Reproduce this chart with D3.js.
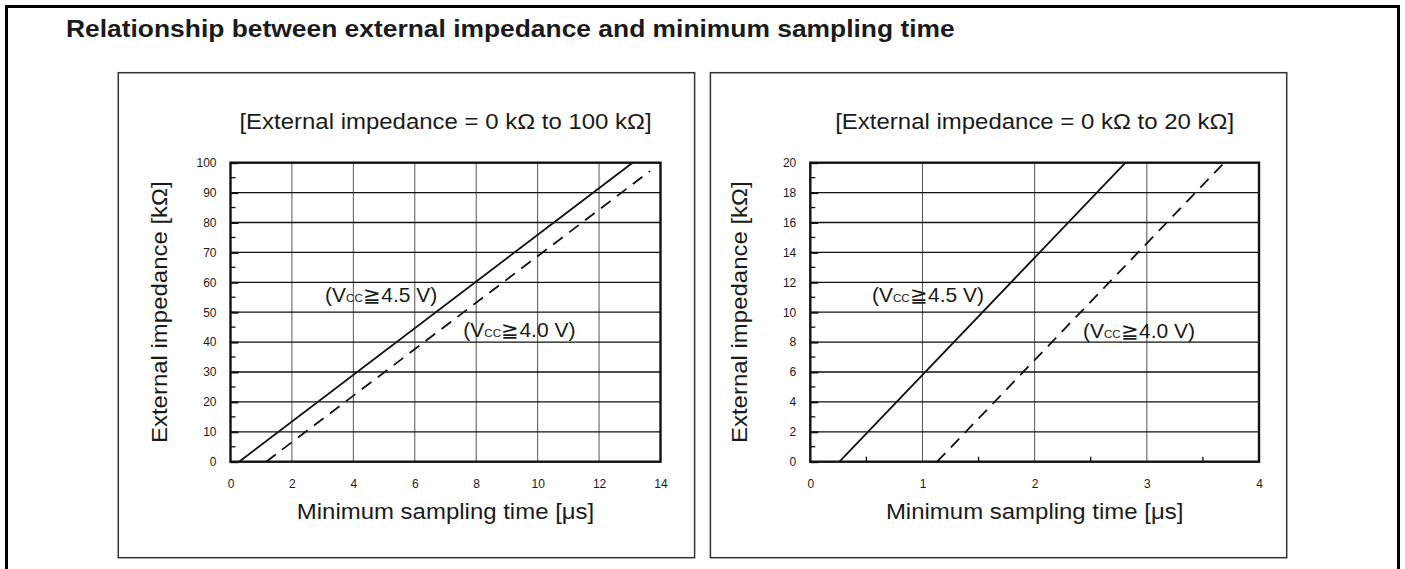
<!DOCTYPE html>
<html>
<head>
<meta charset="utf-8">
<script src="https://cdn.jsdelivr.net/npm/d3@7"></script>
<style>
body { margin: 0; background: #fff; }
svg { display: block; }
text { font-family: "Liberation Sans", Arial, Helvetica, sans-serif; fill: #1a1a1a; }
</style>
</head>
<body>
<svg></svg>
<script>
// Texts
var chartTitle = "Relationship between external impedance and minimum sampling time";
var panelTitles = ["[External impedance = 0 k\u03A9 to 100 k\u03A9]", "[External impedance = 0 k\u03A9 to 20 k\u03A9]"];
var xLabel = "Minimum sampling time [\u03BCs]";
var yLabel = "External impedance [k\u03A9]";
var seriesNames = ["4.5 V", "4.0 V"];

// Tick values
var leftTimeTicks = [0, 2, 4, 6, 8, 10, 12, 14];
var leftImpTicks = [0, 10, 20, 30, 40, 50, 60, 70, 80, 90, 100];
var leftImpMinor = [5, 15, 25, 35, 45, 55, 65, 75, 85, 95];
var rightTimeTicks = [0, 1, 2, 3, 4];
var rightTimeMinor = [0.5, 1.5, 2.5, 3.5];
var rightImpTicks = [0, 2, 4, 6, 8, 10, 12, 14, 16, 18, 20];
var rightImpMinor = [1, 3, 5, 7, 9, 11, 13, 15, 17, 19];

// Series (sampling time in us, impedance in kOhm)
var left45Time = [0.28, 13.09];
var left45Imp = [0, 100];
var left40Time = [1.16, 13.66];
var left40Imp = [0, 97.2];
var right45Time = [0.26, 2.81];
var right45Imp = [0, 20];
var right40Time = [1.13, 3.69];
var right40Imp = [0, 20];

var W = 1405, H = 569;
var stretch = 1.09; //text in the source is a bit wide
var plotTop = 162.7, plotBottom = 461.7;

var svg = d3.select("svg").attr("width", W).attr("height", H);

//Outer frame
svg.append("rect")
  .attr("x", 6.5).attr("y", 6.5)
  .attr("width", 1392).attr("height", 620)
  .attr("fill", "none").attr("stroke", "#000").attr("stroke-width", 3);

svg.append("text")
  .attr("transform", "translate(66,37) scale(1.1,1)")
  .attr("font-size", 24).attr("font-weight", "bold").attr("fill", "#000")
  .text(chartTitle);

function zip(a, b) {
  return a.map(function(v, i) { return [v, b[i]]; });
}

function wideText(g, x, y, size, str, anchor, rotate) {
  return g.append("text")
    .attr("transform", "translate(" + x + "," + y + ")" + (rotate ? " rotate(-90)" : "") + " scale(" + stretch + ",1)")
    .attr("font-size", size)
    .attr("text-anchor", anchor)
    .text(str);
}

function drawPanel(p) {
  var g = svg.append("g");

  g.append("rect")
    .attr("x", p.boxX).attr("y", 72.7)
    .attr("width", 576.3).attr("height", 485)
    .attr("fill", "none").attr("stroke", "#333").attr("stroke-width", 1.5);

  var x = d3.scaleLinear().domain([0, p.xTicks[p.xTicks.length - 1]]).range([p.left, p.right]);
  var y = d3.scaleLinear().domain([0, p.yTicks[p.yTicks.length - 1]]).range([plotBottom, plotTop]);

  //Grid
  g.selectAll(".vgrid").data(p.xTicks.slice(1, -1)).join("line")
    .attr("x1", function(d) { return x(d); }).attr("x2", function(d) { return x(d); })
    .attr("y1", plotTop).attr("y2", plotBottom)
    .attr("stroke", "#555").attr("stroke-width", 1);
  g.selectAll(".hgrid").data(p.yTicks.slice(1, -1)).join("line")
    .attr("x1", p.left).attr("x2", p.right)
    .attr("y1", function(d) { return y(d); }).attr("y2", function(d) { return y(d); })
    .attr("stroke", "#111").attr("stroke-width", 1.3);

  //Minor ticks, pointing inward
  g.selectAll(".ymin").data(p.yMinor).join("line")
    .attr("x1", p.left).attr("x2", p.left + 5)
    .attr("y1", function(d) { return y(d); }).attr("y2", function(d) { return y(d); })
    .attr("stroke", "#111").attr("stroke-width", 1.3);
  g.selectAll(".xmin").data(p.xMinor).join("line")
    .attr("x1", function(d) { return x(d); }).attr("x2", function(d) { return x(d); })
    .attr("y1", plotBottom).attr("y2", plotBottom - 5)
    .attr("stroke", "#111").attr("stroke-width", 1.3);

  //Axes: labels and major ticks
  var ya = g.append("g").attr("transform", "translate(" + p.left + ",0)")
    .call(d3.axisLeft(y).tickValues(p.yTicks).tickFormat(d3.format("d")).tickSize(-8).tickPadding(14));
  var xa = g.append("g").attr("transform", "translate(0," + plotBottom + ")")
    .call(d3.axisBottom(x).tickValues(p.xTicks).tickFormat(d3.format("d")).tickSize(0).tickPadding(17.5));
  [ya, xa].forEach(function(a) {
    a.attr("font-family", null).attr("font-size", null);
    a.select(".domain").remove();
    a.selectAll("text").attr("font-size", 12).attr("fill", "#222");
    a.selectAll(".tick line").attr("stroke", "#111").attr("stroke-width", 2);
  });

  //Frame of the plot
  g.append("rect")
    .attr("x", p.left).attr("y", plotTop)
    .attr("width", p.right - p.left).attr("height", plotBottom - plotTop)
    .attr("fill", "none").attr("stroke", "#111").attr("stroke-width", 2.4);

  //Lines
  var line = d3.line().x(function(d) { return x(d[0]); }).y(function(d) { return y(d[1]); });
  g.append("path").datum(zip(p.solidT, p.solidZ))
    .attr("d", line).attr("fill", "none")
    .attr("stroke", "#111").attr("stroke-width", 1.8);
  g.append("path").datum(zip(p.dashT, p.dashZ))
    .attr("d", line).attr("fill", "none")
    .attr("stroke", "#111").attr("stroke-width", 1.8)
    .attr("stroke-dasharray", "12,8");

  //Series notes
  p.notes.forEach(function(n, i) {
    var t = g.append("text")
      .attr("transform", "translate(" + x(n[0]) + "," + y(n[1]) + ") scale(1.05,1)")
      .attr("font-size", 20);
    t.append("tspan").text("(V");
    t.append("tspan").attr("font-size", 11).text("CC");
    t.append("tspan").text("\u2267" + seriesNames[i] + ")");
  });

  //Titles
  var cx = (p.left + p.right) / 2;
  wideText(g, cx, plotTop - 34, 22, p.title, "middle", false);
  wideText(g, cx, plotBottom + 57.5, 22, xLabel, "middle", false);
  wideText(g, p.left - 63.5, (plotTop + plotBottom) / 2, 22, yLabel, "middle", true);
}

drawPanel({
  boxX: 118.3, left: 230.5, right: 660.5,
  xTicks: leftTimeTicks, xMinor: [],
  yTicks: leftImpTicks, yMinor: leftImpMinor,
  solidT: left45Time, solidZ: left45Imp,
  dashT: left40Time, dashZ: left40Imp,
  notes: [[3.08, 53.4], [7.58, 41.7]],
  title: panelTitles[0]
});

drawPanel({
  boxX: 710.4, left: 810.3, right: 1259,
  xTicks: rightTimeTicks, xMinor: rightTimeMinor,
  yTicks: rightImpTicks, yMinor: rightImpMinor,
  solidT: right45Time, solidZ: right45Imp,
  dashT: right40Time, dashZ: right40Imp,
  notes: [[0.55, 10.7], [2.43, 8.25]],
  title: panelTitles[1]
});
</script>
</body>
</html>
